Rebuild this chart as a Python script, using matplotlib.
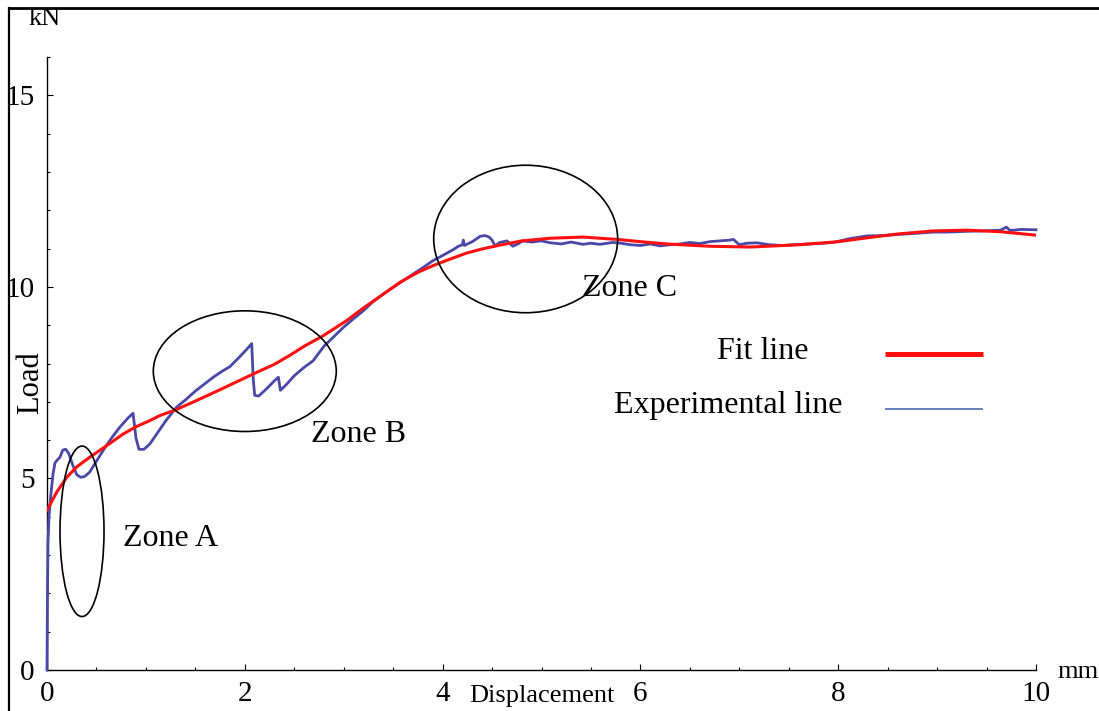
import numpy as np
import matplotlib.pyplot as plt
from matplotlib.patches import Ellipse
from matplotlib.lines import Line2D
from matplotlib.ticker import MultipleLocator

plt.rcParams['font.family'] = ['Liberation Serif', 'DejaVu Serif']

# measured load-displacement record
exp_x = [0.0, 0.005, 0.01, 0.02, 0.04, 0.06, 0.08, 0.10, 0.13, 0.16, 0.19, 0.22, 0.26,
         0.30, 0.34, 0.38, 0.43, 0.50, 0.58, 0.66, 0.74, 0.82, 0.87, 0.90, 0.93, 0.98,
         1.04, 1.12, 1.20, 1.31, 1.40, 1.50, 1.60, 1.68, 1.76, 1.85, 1.95, 2.03, 2.07,
         2.085, 2.10, 2.14, 2.22, 2.30, 2.34, 2.36, 2.42, 2.50, 2.60, 2.69, 2.80, 2.90,
         3.00, 3.10, 3.20, 3.30, 3.40, 3.50, 3.60, 3.70, 3.80, 3.90, 4.00, 4.10, 4.16,
         4.20, 4.21, 4.22, 4.30, 4.38, 4.43, 4.47, 4.50, 4.53, 4.58, 4.65, 4.71, 4.76,
         4.81, 4.90, 5.00, 5.09, 5.20, 5.30, 5.42, 5.50, 5.59, 5.72, 5.80, 5.90, 6.00,
         6.10, 6.20, 6.30, 6.40, 6.50, 6.60, 6.70, 6.80, 6.90, 6.94, 7.00, 7.08, 7.18,
         7.30, 7.44, 7.55, 7.70, 7.85, 7.95, 8.10, 8.29, 8.45, 8.62, 8.80, 8.96, 9.10,
         9.30, 9.45, 9.64, 9.70, 9.74, 9.85, 10.0]
exp_y = [0.0, 2.0, 3.3, 4.0, 4.6, 5.1, 5.4, 5.47, 5.55, 5.74, 5.76, 5.65, 5.35,
         5.10, 5.03, 5.05, 5.16, 5.45, 5.78, 6.08, 6.35, 6.58, 6.70, 6.05, 5.76, 5.76,
         5.90, 6.20, 6.50, 6.86, 7.05, 7.28, 7.48, 7.64, 7.78, 7.92, 8.18, 8.40, 8.52,
         7.60, 7.17, 7.15, 7.34, 7.55, 7.64, 7.30, 7.45, 7.68, 7.90, 8.07, 8.45, 8.70,
         8.95, 9.17, 9.38, 9.62, 9.81, 9.99, 10.16, 10.33, 10.50, 10.68, 10.82, 10.96, 11.06,
         11.10, 11.22, 11.08, 11.18, 11.32, 11.34, 11.30, 11.22, 11.07, 11.16, 11.20, 11.06, 11.12,
         11.20, 11.17, 11.20, 11.15, 11.12, 11.17, 11.11, 11.14, 11.11, 11.16, 11.14, 11.10, 11.08,
         11.12, 11.07, 11.10, 11.12, 11.16, 11.13, 11.18, 11.20, 11.22, 11.24, 11.10, 11.14, 11.15,
         11.10, 11.08, 11.10, 11.12, 11.14, 11.16, 11.25, 11.33, 11.34, 11.37, 11.40, 11.43, 11.43,
         11.45, 11.46, 11.48, 11.56, 11.47, 11.50, 11.49]

# fitted curve
fit_x = [0.0, 0.1, 0.2, 0.3, 0.43, 0.6, 0.77, 0.9, 1.04, 1.14, 1.31, 1.50, 1.72, 1.90,
         2.08, 2.30, 2.46, 2.60, 2.79, 3.03, 3.20, 3.40, 3.57, 3.75, 3.90, 4.07, 4.24,
         4.40, 4.58, 4.80, 5.09, 5.42, 5.76, 6.00, 6.27, 6.70, 7.11, 7.61, 8.00, 8.29,
         8.60, 8.96, 9.30, 9.64, 10.0]
fit_y = [4.17, 4.65, 5.03, 5.30, 5.55, 5.85, 6.16, 6.35, 6.51, 6.64, 6.80, 7.02, 7.28, 7.50,
         7.72, 7.98, 8.22, 8.45, 8.72, 9.12, 9.45, 9.81, 10.12, 10.38, 10.55, 10.72, 10.88,
         10.99, 11.09, 11.20, 11.27, 11.30, 11.24, 11.18, 11.12, 11.06, 11.04, 11.10, 11.18, 11.28,
         11.38, 11.46, 11.48, 11.44, 11.35]

# zone markers: centre, width, height, label position
zone_names = ['Zone A', 'Zone B', 'Zone C']
zone_centres = [(0.354, 3.62), (2.0, 7.8), (4.84, 11.25)]
zone_sizes = [(0.445, 4.45), (1.85, 3.15), (1.86, 3.85)]
zone_text_pos = [(0.77, 3.44), (2.67, 6.15), (5.41, 9.95)]

EXP_COLOR = '#4848a8'
FIT_COLOR = '#ff1010'

fig = plt.figure(figsize=(10.99, 7.11), dpi=100)
ax = fig.add_axes([47 / 1099, 1 - 670 / 711, 989 / 1099, 613 / 711])

ax.plot(exp_x, exp_y, color=EXP_COLOR, lw=2.0, clip_on=False, zorder=3)
ax.plot(fit_x, fit_y, color=FIT_COLOR, lw=2.2, zorder=4)

for name, c, s, tp in zip(zone_names, zone_centres, zone_sizes, zone_text_pos):
    ax.add_patch(Ellipse(c, s[0], s[1], fill=False, ec='black', lw=1.2, zorder=5))
    ax.text(tp[0], tp[1], name, fontsize=23, ha='left', va='center')

ax.set_xlim(0, 10)
ax.set_ylim(0, 16)
for side in ['top', 'right']:
    ax.spines[side].set_visible(False)
for side in ['left', 'bottom']:
    ax.spines[side].set_linewidth(1.0)

ax.xaxis.set_major_locator(MultipleLocator(2))
ax.xaxis.set_minor_locator(MultipleLocator(0.5))
ax.yaxis.set_major_locator(MultipleLocator(5))
ax.yaxis.set_minor_locator(MultipleLocator(1))
ax.tick_params(which='both', direction='in', width=0.8)
ax.tick_params(which='major', length=4.5, labelsize=21)
ax.tick_params(which='minor', length=2.3)
ax.tick_params(axis='x', which='major', pad=8)
ax.tick_params(axis='y', which='major', pad=9)

# axis captions
ax.text(-0.002, 1.062, 'kN', transform=ax.transAxes, fontsize=19, ha='center', va='center')
ax.text(1.0425, -0.003, 'mm', transform=ax.transAxes, fontsize=19, ha='center', va='center')
ax.text(0.5, -0.042, 'Displacement', transform=ax.transAxes, fontsize=19,
        ha='center', va='center')
ax.text(-0.0165, 0.468, 'Load', transform=ax.transAxes, fontsize=22, rotation=90,
        ha='center', va='center')

# key
ax.text(0.7695, 0.520, 'Fit line', transform=ax.transAxes, fontsize=23, ha='right', va='center')
ax.plot([0.847, 0.946], [0.5155, 0.5155], transform=ax.transAxes, color=FIT_COLOR,
        lw=3.6, solid_capstyle='butt', clip_on=False)
ax.text(0.804, 0.4307, 'Experimental line', transform=ax.transAxes, fontsize=23,
        ha='right', va='center')
ax.plot([0.847, 0.946], [0.4258, 0.4258], transform=ax.transAxes, color='#3a62a8',
        lw=1.1, solid_capstyle='butt', clip_on=False)

# outer frame (top and left edges)
fig.add_artist(Line2D([9 / 1099, 1.0], [1 - 7.5 / 711, 1 - 7.5 / 711], color='black', lw=2.0))
fig.add_artist(Line2D([9 / 1099, 9 / 1099], [0.0, 1 - 7.5 / 711], color='black', lw=1.6))

fig.savefig('out.png', dpi=100)
